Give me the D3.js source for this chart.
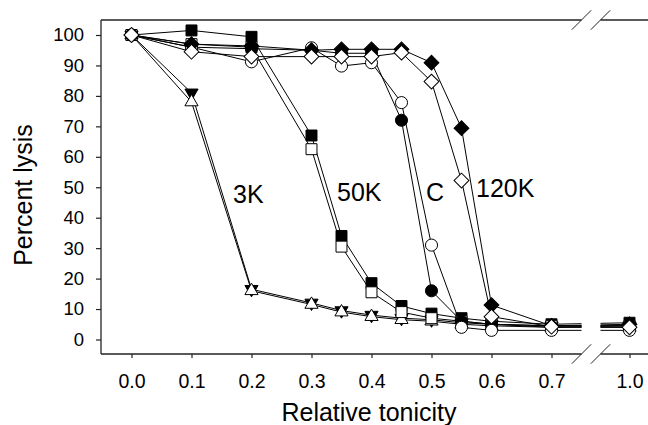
<!DOCTYPE html>
<html><head><meta charset="utf-8">
<script src="https://cdn.jsdelivr.net/npm/d3@7"></script>
<style>body{margin:0;background:#fff}svg{display:block}</style>
</head><body>
<svg id="c" width="648" height="425"></svg>
<script>
const xVals = [0, 0.1, 0.2, 0.3, 0.35, 0.4, 0.45, 0.5, 0.55, 0.6, 0.7, 1.0];
const tri3KFilled = [100, 81, 16.5, 12, 9.5, 8, 7, 6.5, 5.5, 5, 4.5, 4.5];
const tri3KOpen   = [100, 78, 16, 11.5, 9, 7.5, 6.5, 6, 5, 4.5, 4, 4];
const sq50KFilled = [100, 101.5, 99.4, 67, 34, 18.5, 11, 8.5, 7, 6, 5, 5.5];
const sq50KOpen   = [100, 97, 96, 62.5, 30.5, 15.5, 9, 7, 6, 5, 4.5, 4.5];
const circCFilled = [100, 96, 95.5, 95, 94, 94, 72, 16, 6, 5, 4, 4.5];
const circCOpen   = [100, 96, 91.2, 95.8, 89.8, 90.9, 77.8, 31, 4, 3, 3, 3];
const dia120KFilled = [100, 97, 96.4, 95, 95.3, 95.3, 95.3, 90.9, 69.4, 11.3, 4.5, 5];
const dia120KOpen   = [100, 94.5, 92.9, 92.9, 92.9, 92.9, 94.2, 84.7, 52.2, 7.5, 4.2, 4];
const xTicks = [0, 0.1, 0.2, 0.3, 0.4, 0.5, 0.6, 0.7, 1.0];
const yTicks = [0, 10, 20, 30, 40, 50, 60, 70, 80, 90, 100];
const groupLabels = ["3K", "50K", "C", "120K"];

const series = [
  {v: tri3KFilled, sym: d3.symbolTriangle, fill: "#000", rot: 180, size: 75},
  {v: tri3KOpen, sym: d3.symbolTriangle, fill: "#fff", rot: 0, size: 75},
  {v: sq50KFilled, sym: d3.symbolSquare, fill: "#000", rot: 0, size: 120},
  {v: sq50KOpen, sym: d3.symbolSquare, fill: "#fff", rot: 0, size: 120},
  {v: circCFilled, sym: d3.symbolCircle, fill: "#000", rot: 0, size: 115},
  {v: circCOpen, sym: d3.symbolCircle, fill: "#fff", rot: 0, size: 115},
  {v: dia120KFilled, sym: d3.symbolSquare, fill: "#000", rot: 45, size: 110},
  {v: dia120KOpen, sym: d3.symbolSquare, fill: "#fff", rot: 45, size: 110}
];

const svg = d3.select("#c");
const font = "'Liberation Sans', Arial, sans-serif";
const gapL = 581.5, gapR = 600.5;
const x = d3.scaleLinear().domain([0, 0.75, 0.95, 1.0]).range([131.5, gapL, gapR, 629.5]);
const y = d3.scaleLinear().domain([0, 100]).range([339.5, 35]);
const pL = 101, pT = 20, pB = 354, pR = 648;

const defs = svg.append("defs");
const cp = defs.append("clipPath").attr("id", "gapclip");
cp.append("rect").attr("x", 0).attr("y", 0).attr("width", gapL).attr("height", 425);
cp.append("rect").attr("x", gapR).attr("y", 0).attr("width", 648 - gapR).attr("height", 425);

const axisColor = "#222";
const frame = svg.append("g").attr("stroke", axisColor).attr("stroke-width", 1.3).attr("fill", "none");
frame.append("line").attr("x1", pL).attr("x2", pL).attr("y1", pT).attr("y2", pB);
[pT, pB].forEach(yy => {
  frame.append("line").attr("x1", pL).attr("x2", gapL).attr("y1", yy).attr("y2", yy);
  frame.append("line").attr("x1", gapR).attr("x2", pR).attr("y1", yy).attr("y2", yy);
  [gapL, gapR].forEach(gx => {
    frame.append("line").attr("stroke-width", 1).attr("x1", gx - 9.7).attr("y1", yy + 9.7).attr("x2", gx + 9.7).attr("y2", yy - 9.7);
  });
});

const gy = svg.append("g").attr("transform", `translate(${pL},0)`)
  .call(d3.axisLeft(y).tickValues(yTicks).tickSize(5).tickPadding(12));
gy.select(".domain").remove();
gy.selectAll(".tick line").attr("stroke", axisColor).attr("stroke-width", 1.2);
gy.selectAll("text").attr("font-family", font).attr("font-size", 18.5).attr("fill", "#000");

const gx = svg.append("g").attr("transform", `translate(0,${pB})`)
  .call(d3.axisBottom(x).tickValues(xTicks).tickFormat(d3.format(".1f")).tickSize(4).tickPadding(16));
gx.select(".domain").remove();
gx.selectAll(".tick line").attr("stroke", axisColor).attr("stroke-width", 1.2);
gx.selectAll("text").attr("font-family", font).attr("font-size", 19.5).attr("fill", "#000");

svg.append("text").attr("x", 369).attr("y", 421).attr("text-anchor", "middle")
  .attr("font-family", font).attr("font-size", 25).text("Relative tonicity");
svg.append("text").attr("transform", "translate(32,195) rotate(-90)").attr("text-anchor", "middle")
  .attr("font-family", font).attr("font-size", 25).text("Percent lysis");

const line = d3.line().x((d, i) => x(xVals[i])).y(d => y(d));
series.forEach(s => {
  svg.append("path").attr("d", line(s.v)).attr("fill", "none").attr("stroke", "#000")
    .attr("stroke-width", 1).attr("clip-path", "url(#gapclip)");
  svg.append("g").selectAll("path").data(s.v).join("path")
    .attr("d", d3.symbol().type(s.sym).size(s.size))
    .attr("transform", (d, i) => `translate(${x(xVals[i])},${y(d)}) rotate(${s.rot})`)
    .attr("fill", s.fill).attr("stroke", "#000").attr("stroke-width", 1);
});

const labelPos = [[233, 203], [337, 201], [426, 201], [476, 197]];
svg.append("g").selectAll("text").data(groupLabels).join("text")
  .attr("x", (d, i) => labelPos[i][0]).attr("y", (d, i) => labelPos[i][1])
  .attr("font-family", font).attr("font-size", 25).attr("fill", "#000").text(d => d);
</script>
</body></html>
